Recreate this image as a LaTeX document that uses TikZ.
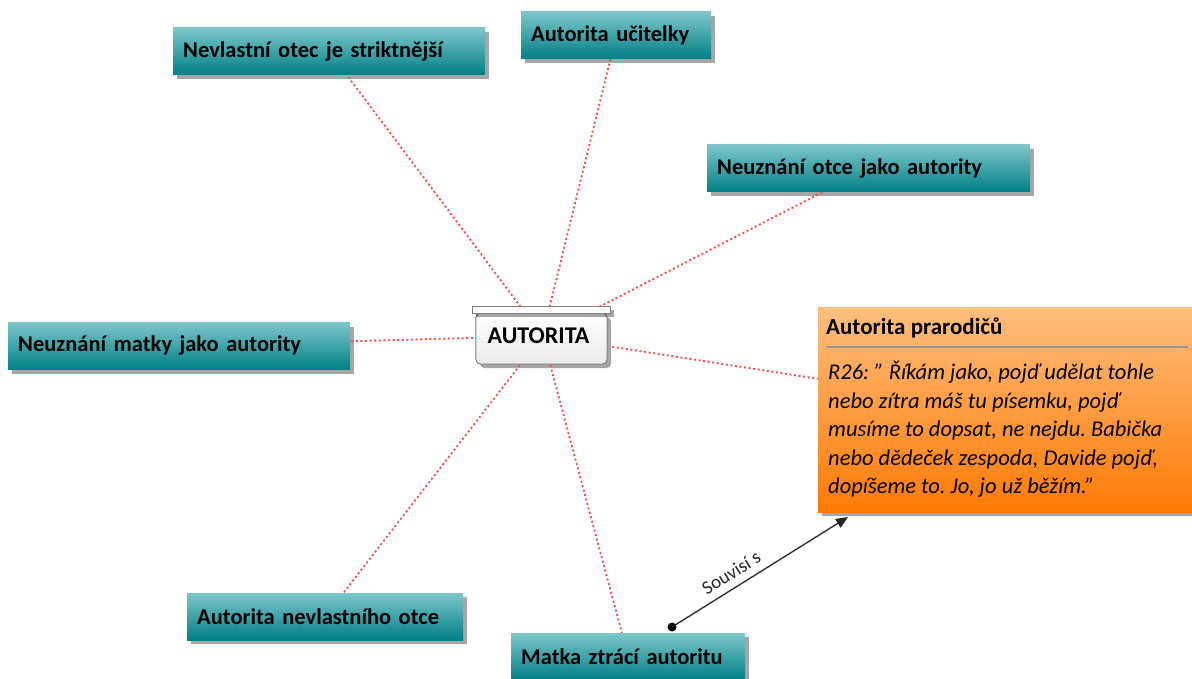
\documentclass[tikz,border=0pt]{standalone}
\usepackage{fontspec}
\setmainfont{Carlito}
\usetikzlibrary{shadows,backgrounds,calc,arrows.meta}
\definecolor{tealtop}{RGB}{124,198,202}
\definecolor{tealbot}{RGB}{0,128,134}
\definecolor{orgtop}{RGB}{255,190,125}
\definecolor{orgbot}{RGB}{255,122,5}
\definecolor{linkred}{RGB}{255,70,70}
\definecolor{hubline}{RGB}{130,130,130}
\frenchspacing
\begin{document}
\begin{tikzpicture}[x=1pt,y=-1pt,
  codebox/.style={anchor=west, shading=axis, top color=tealtop, bottom color=tealbot,
    drop shadow={shadow xshift=4pt, shadow yshift=-4pt, fill=black, opacity=0.35},
    minimum height=47, inner xsep=10, inner ysep=0, align=left,
    font=\bfseries\fontsize{22.5}{25}\selectfont},
  memobox/.style={anchor=north west, shading=axis, top color=orgtop, bottom color=orgbot,
    drop shadow={shadow xshift=4pt, shadow yshift=-4pt, fill=black, opacity=0.35},
    minimum width=400, minimum height=205, inner sep=0},
  hub/.style={minimum width=139, minimum height=58, inner sep=0,
    font=\bfseries\fontsize{24}{26}\selectfont},
  link/.style={draw=linkred, line width=1.8, dash pattern=on 2pt off 2.6pt},
  relation/.style={draw=black!85, line width=1.3, -{Triangle[length=12,width=10]}},
]
\useasboundingbox (0,0) rectangle (1192,679);

% code boxes
\node[codebox, text width=292] (stricter)   at (173,51.5)  {Nevlastní otec je striktnější};
\node[codebox, text width=170] (teacher)    at (521,35.5)  {Autorita učitelky};
\node[codebox, text width=303] (father)     at (707,168.5) {Neuznání otce jako autority};
\node[codebox, text width=322] (mother)     at (8,346)     {Neuznání matky jako autority};
\node[codebox, text width=256] (stepfather) at (187,616.5) {Autorita nevlastního otce};
\node[codebox, text width=214] (losing)     at (511,656.5) {Matka ztrácí autoritu};

% central network node
\node[hub] (autorita) at (542.5,336) {\hspace*{-8pt}AUTORITA};
\begin{scope}[on background layer]
  \fill[black, opacity=0.35, rounded corners=5]
    ($(autorita.north west)+(7,10)$) rectangle ($(autorita.south east)+(-1,3)$);
  \draw[hubline, line width=1, top color=white, bottom color=black!8, rounded corners=5]
    ($(autorita.north west)+(3,6)$) rectangle ($(autorita.south east)+(-5,-1)$);
  \fill[black, opacity=0.35] ($(autorita.north west)+(3,3)$) rectangle ($(autorita.north east)+(2,10)$);
  \draw[hubline, line width=1.2, fill=white]
    (autorita.north west) rectangle ($(autorita.north east)+(-2,7)$);
\end{scope}

% memo
\node[memobox] (grand) at (818,307) {};
\node[anchor=west, inner sep=0, font=\bfseries\fontsize{23}{25}\selectfont] (grandtitle)
  at ($(grand.north west)+(8,21)$) {Autorita prarodičů};
\draw[draw=black!40, line width=1.2] ($(grand.north west)+(8,40)$) -- ($(grand.north west)+(370,40)$);
\node[anchor=north west, align=left, inner sep=0, font=\itshape\fontsize{22.5}{28.5}\selectfont] (grandquote)
  at ($(grand.north west)+(10,54)$)
  {R26: " Říkám jako, pojď udělat tohle\\
   nebo zítra máš tu písemku, pojď\\
   musíme to dopsat, ne nejdu. Babička\\
   nebo dědeček zespoda, Davide pojď,\\
   dopíšeme to. Jo, jo už běžím."};

% links from the hub
\foreach \target in {stricter,teacher,father,mother,stepfather,losing,grand}
  \draw[link] (autorita) -- (\target);

% named relation
\coordinate (relfrom) at (672,627);
\coordinate (relto) at (848,517);
\fill[black] (relfrom) circle (4.5);
\draw[relation] (relfrom) -- node[pos=0.38, sloped, above=4pt, font=\fontsize{19}{21}\selectfont, text=black!85] {Souvisí s} (relto);
\end{tikzpicture}
\end{document}
